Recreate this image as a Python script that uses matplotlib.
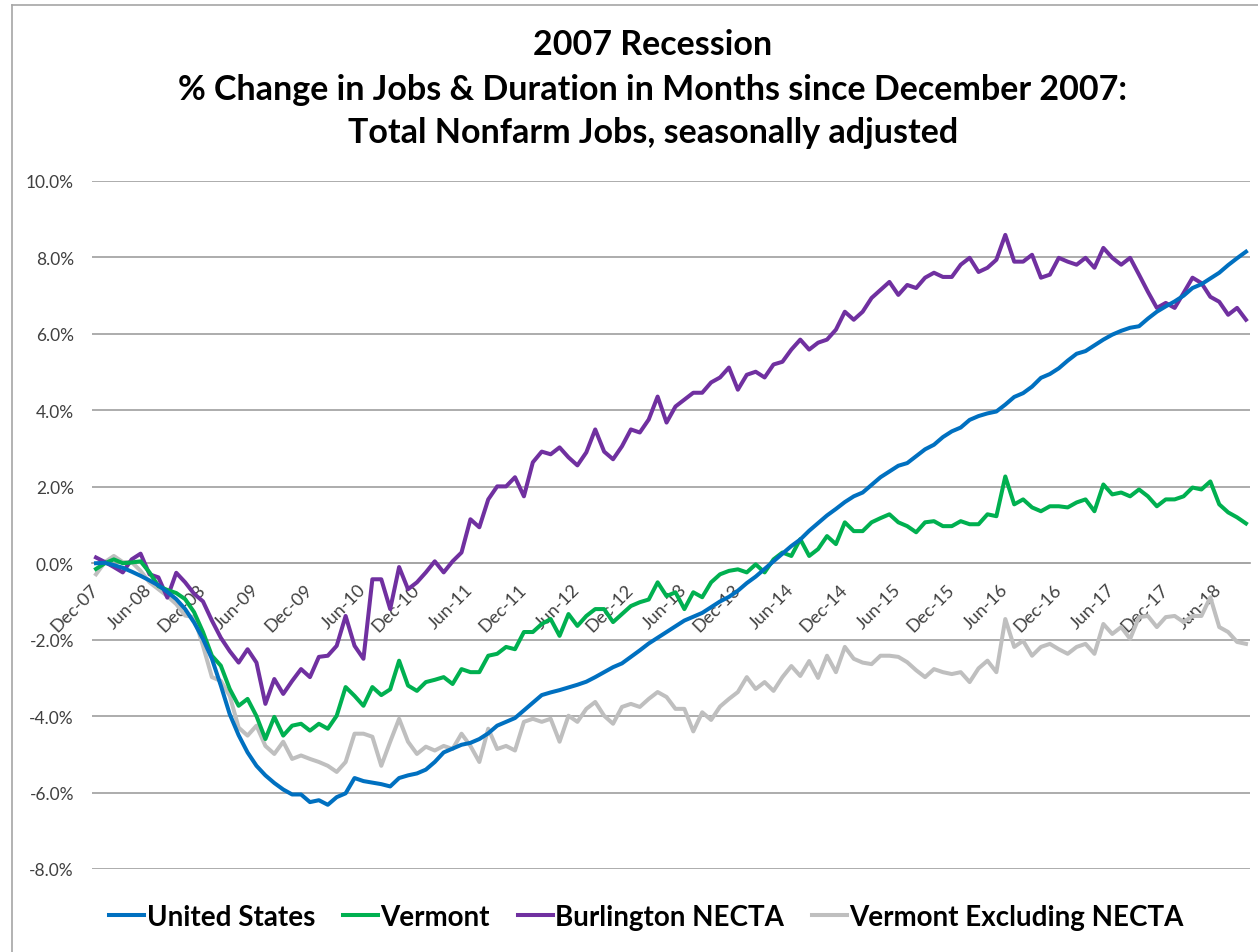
import matplotlib.pyplot as plt
import numpy as np

# % change in jobs since Dec-07, monthly Dec-07 .. Sep-18
us = [0.00, 0.01, -0.05, -0.12, -0.22, -0.33, -0.45, -0.58, -0.75, -0.94,
      -1.2, -1.55, -1.98, -2.5, -3.2, -3.95, -4.5, -4.95, -5.3, -5.55,
      -5.75, -5.92, -6.05, -6.05, -6.25, -6.2, -6.32, -6.12, -6.02, -5.62,
      -5.7, -5.74, -5.78, -5.84, -5.62, -5.55, -5.5, -5.4, -5.2, -4.95,
      -4.85, -4.75, -4.7, -4.6, -4.45, -4.25, -4.15, -4.05, -3.85, -3.65,
      -3.45, -3.38, -3.32, -3.25, -3.18, -3.1, -2.98, -2.85, -2.72, -2.62,
      -2.45, -2.28, -2.1, -1.95, -1.8, -1.65, -1.5, -1.4, -1.3, -1.15,
      -1.0, -0.88, -0.72, -0.52, -0.35, -0.15, 0.05, 0.25, 0.45, 0.62,
      0.85, 1.05, 1.25, 1.42, 1.6, 1.75, 1.85, 2.05, 2.25, 2.4,
      2.55, 2.62, 2.8, 2.98, 3.1, 3.3, 3.45, 3.55, 3.75, 3.85,
      3.92, 3.97, 4.15, 4.35, 4.45, 4.62, 4.85, 4.95, 5.1, 5.3,
      5.48, 5.55, 5.7, 5.85, 5.98, 6.08, 6.16, 6.2, 6.4, 6.58,
      6.72, 6.85, 7.0, 7.2, 7.3, 7.45, 7.6, 7.8, 7.98, 8.15]

vermont = [-0.15, 0.0, 0.1, 0.0, 0.02, 0.05, -0.24, -0.6, -0.7, -0.78,
           -0.94, -1.28, -1.8, -2.42, -2.68, -3.29, -3.73, -3.55, -4.0, -4.6,
           -4.02, -4.51, -4.25, -4.2, -4.38, -4.2, -4.33, -3.99, -3.24, -3.47,
           -3.73, -3.24, -3.45, -3.3, -2.55, -3.2, -3.34, -3.11, -3.05, -2.98,
           -3.16, -2.77, -2.85, -2.85, -2.42, -2.37, -2.19, -2.25, -1.8, -1.8,
           -1.59, -1.46, -1.9, -1.33, -1.64, -1.38, -1.2, -1.2, -1.54, -1.33,
           -1.12, -1.02, -0.95, -0.5, -0.86, -0.76, -1.2, -0.76, -0.89, -0.5,
           -0.29, -0.2, -0.16, -0.24, -0.03, -0.24, 0.1, 0.28, 0.19, 0.63,
           0.19, 0.37, 0.71, 0.5, 1.07, 0.84, 0.84, 1.07, 1.18, 1.28,
           1.07, 0.97, 0.81, 1.07, 1.1, 0.97, 0.97, 1.1, 1.02, 1.02,
           1.28, 1.23, 2.27, 1.54, 1.67, 1.46, 1.36, 1.49, 1.49, 1.46,
           1.59, 1.67, 1.36, 2.06, 1.8, 1.85, 1.75, 1.93, 1.75, 1.49,
           1.67, 1.67, 1.75, 1.98, 1.93, 2.14, 1.54, 1.33, 1.2, 1.04]

burlington = [0.15, 0.03, -0.1, -0.24, 0.1, 0.25, -0.29, -0.37, -0.9, -0.25,
              -0.5, -0.8, -1.0, -1.5, -1.95, -2.3, -2.6, -2.25, -2.6, -3.68,
              -3.03, -3.42, -3.08, -2.77, -2.98, -2.45, -2.42, -2.16, -1.38, -2.16,
              -2.5, -0.42, -0.42, -1.2, -0.1, -0.68, -0.5, -0.24, 0.05, -0.24,
              0.05, 0.28, 1.15, 0.94, 1.67, 2.01, 2.01, 2.25, 1.75, 2.64,
              2.92, 2.85, 3.03, 2.77, 2.56, 2.9, 3.5, 2.92, 2.72, 3.06,
              3.5, 3.42, 3.76, 4.36, 3.68, 4.1, 4.28, 4.46, 4.46, 4.73,
              4.86, 5.12, 4.54, 4.93, 5.01, 4.86, 5.2, 5.27, 5.59, 5.85,
              5.59, 5.77, 5.85, 6.11, 6.58, 6.37, 6.58, 6.94, 7.15, 7.36,
              7.02, 7.28, 7.2, 7.47, 7.6, 7.49, 7.49, 7.81, 7.99, 7.62,
              7.73, 7.94, 8.59, 7.89, 7.89, 8.07, 7.47, 7.55, 7.99, 7.89,
              7.81, 7.99, 7.73, 8.25, 7.99, 7.81, 7.99, 7.55, 7.1, 6.68,
              6.81, 6.68, 7.07, 7.47, 7.33, 6.97, 6.84, 6.5, 6.68, 6.37]

vt_excl = [-0.29, 0.03, 0.19, 0.03, 0.03, -0.2, -0.5, -0.68, -0.86, -1.07,
           -1.37, -1.41, -2.16, -2.98, -3.08, -3.47, -4.3, -4.51, -4.25, -4.78,
           -4.99, -4.67, -5.12, -5.03, -5.12, -5.2, -5.3, -5.46, -5.2, -4.46,
           -4.46, -4.54, -5.3, -4.67, -4.07, -4.67, -4.99, -4.8, -4.9, -4.78,
           -4.86, -4.46, -4.78, -5.2, -4.33, -4.86, -4.78, -4.9, -4.15, -4.07,
           -4.15, -4.07, -4.67, -3.99, -4.15, -3.81, -3.63, -3.99, -4.2, -3.76,
           -3.68, -3.76, -3.55, -3.37, -3.5, -3.81, -3.81, -4.4, -3.9, -4.1,
           -3.75, -3.55, -3.37, -2.98, -3.29, -3.11, -3.34, -2.98, -2.69, -2.95,
           -2.56, -3.0, -2.42, -2.85, -2.19, -2.5, -2.6, -2.64, -2.42, -2.42,
           -2.45, -2.59, -2.8, -2.98, -2.77, -2.85, -2.9, -2.85, -3.11, -2.75,
           -2.55, -2.85, -1.46, -2.19, -2.03, -2.42, -2.19, -2.11, -2.25, -2.37,
           -2.19, -2.11, -2.37, -1.59, -1.85, -1.67, -1.98, -1.41, -1.38, -1.67,
           -1.41, -1.38, -1.54, -1.38, -1.38, -0.89, -1.67, -1.8, -2.06, -2.11]

tick_labels = ['Dec-07', 'Jun-08', 'Dec-08', 'Jun-09', 'Dec-09', 'Jun-10', 'Dec-10',
               'Jun-11', 'Dec-11', 'Jun-12', 'Dec-12', 'Jun-13', 'Dec-13', 'Jun-14',
               'Dec-14', 'Jun-15', 'Dec-15', 'Jun-16', 'Dec-16', 'Jun-17', 'Dec-17',
               'Jun-18']

series = [('United States', us, '#0070C0'),
          ('Vermont', vermont, '#00B050'),
          ('Burlington NECTA', burlington, '#7030A0'),
          ('Vermont Excluding NECTA', vt_excl, '#BFBFBF')]

plt.rcParams['font.family'] = ['Lato', 'DejaVu Sans']

W, H = 1258, 953
fig = plt.figure(figsize=(W / 100, H / 100), dpi=100)
left, right = 92 / W, 1250 / W
bottom, top = 1 - 870 / H, 1 - 182 / H
ax = fig.add_axes([left, bottom, right - left, top - bottom])

# draw in reverse so United States ends on top
for name, vals, c in series[::-1]:
    ax.plot(np.arange(len(vals)), vals, color=c, lw=2.9, label=name, zorder=3)

ax.set_ylim(-8, 10)
ax.set_xlim(-0.45, 129.45)
ax.set_yticks(np.arange(-8, 10.1, 2))
ax.set_yticklabels(['%.1f%%' % v for v in np.arange(-8, 10.1, 2)])
ax.yaxis.grid(True, color='#A6A6A6', lw=1.3, zorder=1)
ax.tick_params(axis='y', length=0, pad=13, labelsize=12.5, labelcolor='#404040')

for s in ['left', 'right', 'top']:
    ax.spines[s].set_visible(False)
ax.spines['bottom'].set_position(('data', 0))
ax.spines['bottom'].set_color('#A6A6A6')
ax.spines['bottom'].set_linewidth(1.3)

ax.set_xticks(np.arange(0, 127, 6))
ax.set_xticklabels(tick_labels, rotation=45, ha='right', va='center',
                   rotation_mode='anchor')
ax.tick_params(axis='x', length=0, pad=17, labelsize=13, labelcolor='#404040')

title_x = 0.519
fig.text(title_x, 1 - 45 / H, '2007 Recession', ha='center', va='center',
         fontsize=24.5, fontweight='bold')
fig.text(title_x, 1 - 90 / H, '% Change in Jobs & Duration in Months since December 2007:',
         ha='center', va='center', fontsize=24.5, fontweight='bold')
fig.text(title_x, 1 - 133 / H, 'Total Nonfarm Jobs, seasonally adjusted',
         ha='center', va='center', fontsize=24.5, fontweight='bold')

handles, labels = ax.get_legend_handles_labels()
leg = fig.legend(handles[::-1], labels[::-1], loc='center', bbox_to_anchor=(0.514, 1 - 918 / H),
                 ncol=4, frameon=False, handlelength=1.25, handletextpad=0.1,
                 columnspacing=1.0, prop={'size': 20, 'weight': 'bold'})

# chart border (left and top edges visible in the crop)
fig.add_artist(plt.Line2D([12 / W, 12 / W], [0, 1 - 6 / H], color='#A6A6A6', lw=1.2))
fig.add_artist(plt.Line2D([12 / W, 1], [1 - 6 / H, 1 - 6 / H], color='#A6A6A6', lw=1.2))

fig.savefig('out.png', dpi=100)
